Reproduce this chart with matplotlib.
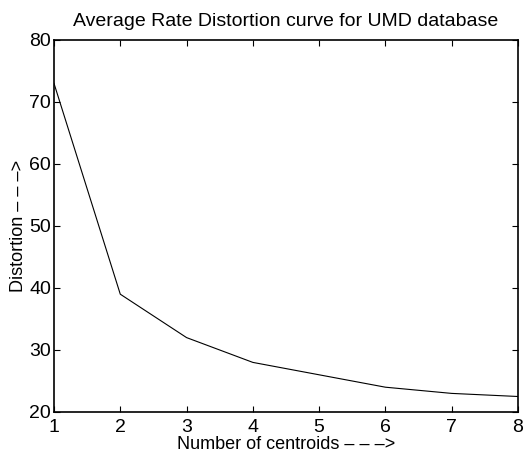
import matplotlib
matplotlib.use('Agg')
import matplotlib.pyplot as plt

centroids = [1, 2, 3, 4, 5, 6, 7, 8]
distortion = [73, 39, 32, 28, 26, 24, 23, 22.5]
xticks = [1, 2, 3, 4, 5, 6, 7, 8]
yticks = [20, 30, 40, 50, 60, 70, 80]

plt.rcParams['font.family'] = ['Liberation Sans', 'DejaVu Sans']
plt.rcParams['font.size'] = 14

fig = plt.figure(figsize=(5.3, 4.55), dpi=100)
ax = fig.add_axes([54 / 530, 1 - 412 / 455, 464 / 530, 372 / 455])
ax.plot(centroids, distortion, color='black', linewidth=0.8)
ax.set_xlim(1, 8)
ax.set_ylim(20, 80)
ax.set_xticks(xticks)
ax.set_yticks(yticks)
ax.tick_params(direction='in', top=True, right=True, length=4, width=0.8)
ax.tick_params(axis='x', pad=5)
ax.tick_params(axis='y', pad=2)
for s in ax.spines.values():
    s.set_linewidth(1.2)
ax.set_xlabel('Number of centroids \u2013 \u2013 \u2013>', fontsize=13, labelpad=0)
ax.set_ylabel('Distortion \u2013 \u2013 \u2013>', fontsize=13, labelpad=2)
ax.set_title('Average Rate Distortion curve for UMD database', fontsize=14, pad=10)
fig.savefig('out.png', dpi=100)
